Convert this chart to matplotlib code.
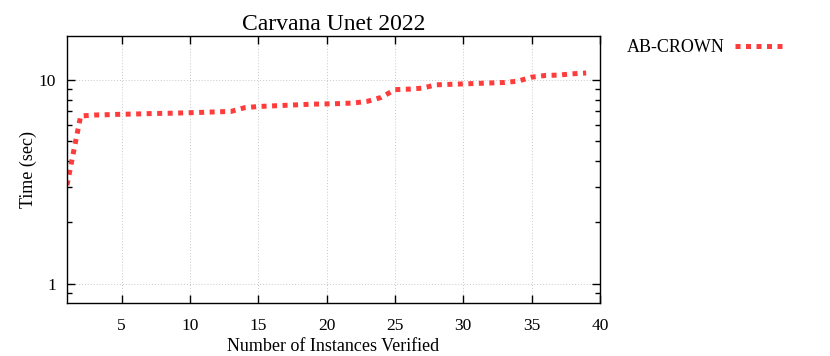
import matplotlib
matplotlib.use("Agg")
import matplotlib.pyplot as plt
from matplotlib.ticker import FixedLocator, LogLocator, NullFormatter

plt.rcParams["font.family"] = ["Liberation Serif", "DejaVu Serif"]

# instances verified vs cumulative time (sec)
instances = list(range(1, 40))
times = [3.05, 6.65, 6.72, 6.75, 6.78, 6.80, 6.83, 6.85, 6.87, 6.90,
         6.93, 6.97, 7.00, 7.30, 7.40, 7.45, 7.50, 7.55, 7.60, 7.62,
         7.65, 7.70, 7.85, 8.20, 8.95, 9.00, 9.10, 9.45, 9.50, 9.55,
         9.60, 9.65, 9.70, 9.85, 10.30, 10.50, 10.55, 10.70, 10.80]
x_ticks = [5, 10, 15, 20, 25, 30, 35, 40]
y_ticks = [1, 10]
y_tick_labels = ["1", "10"]

fig = plt.figure(figsize=(8.3, 3.56), dpi=100)
ax = fig.add_axes([0.0807, 0.149, 0.642, 0.75])

ax.plot(instances, times, color="#ff3c3c", lw=3.6, linestyle=(0, (1, 1.1)),
        dash_capstyle="butt", label="AB-CROWN")

ax.set_yscale("log")
ax.set_xlim(1, 40)
ax.set_ylim(0.807, 16.4)
ax.xaxis.set_major_locator(FixedLocator(x_ticks))
ax.set_yticks(y_ticks)
ax.set_yticklabels(y_tick_labels)
ax.yaxis.set_minor_locator(LogLocator(base=10, subs=range(2, 10)))
ax.yaxis.set_minor_formatter(NullFormatter())

ax.tick_params(which="both", direction="in", top=True, right=True, labelsize=12.5)
ax.tick_params(axis="x", which="major", pad=11)
ax.tick_params(axis="y", which="major", pad=8)
ax.tick_params(which="major", length=6, width=1)
ax.tick_params(which="minor", length=3.5, width=1)
ax.grid(True, which="major", color="#c8c8c8", linestyle=(0, (1, 2)), lw=0.7)
for s in ax.spines.values():
    s.set_linewidth(1)

ax.set_title("Carvana Unet 2022", fontsize=17, pad=4)
ax.set_xlabel("Number of Instances Verified", fontsize=13, labelpad=3)
ax.set_ylabel("Time (sec)", fontsize=13, labelpad=1)

ax.legend(loc="upper left", bbox_to_anchor=(1.02, 1.05), frameon=False,
          markerfirst=False, fontsize=13, handlelength=2.6, handletextpad=0.6)

fig.savefig("out.png", dpi=100)
